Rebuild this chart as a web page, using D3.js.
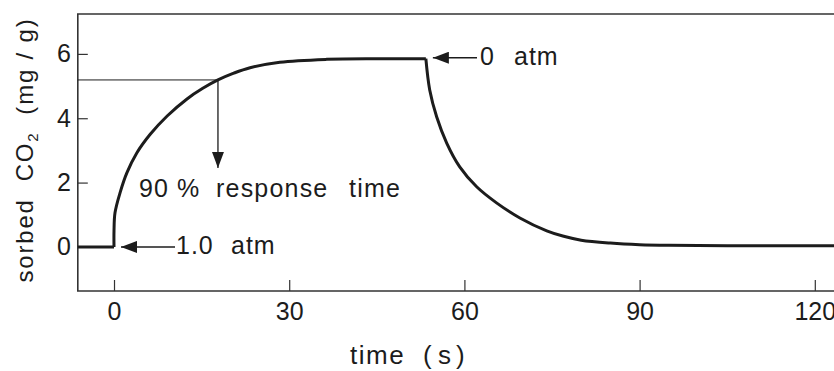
<!DOCTYPE html>
<html>
<head>
<meta charset="utf-8">
<script src="https://cdn.jsdelivr.net/npm/d3@7"></script>
<style>
  body { margin: 0; background: #fff; }
  svg text { font-family: "Liberation Sans", Arial, sans-serif; fill: #1c1c1c; white-space: pre; }
</style>
</head>
<body>
<svg id="chart" width="834" height="371"></svg>
<script>
// readings: time (s) vs sorbed CO2 (mg/g)
var riseTime = [0, 0, 0.17, 1.03, 2.2, 3.9, 6.2, 9.1, 12.5, 15.2, 17.8, 20.5, 23.3, 28.4, 36.4, 45, 53.4];
var riseValue = [0, 0.5, 1.06, 1.68, 2.3, 2.92, 3.5, 4.07, 4.6, 4.93, 5.19, 5.4, 5.57, 5.74, 5.83, 5.85, 5.85];
var fallTime = [53.4, 54.06, 55.26, 56.97, 59.2, 62.1, 65.5, 69.5, 74.1, 77, 80, 85, 90, 95, 105, 125];
var fallValue = [5.85, 4.88, 4.04, 3.23, 2.49, 1.87, 1.37, 0.9, 0.5, 0.33, 0.21, 0.12, 0.07, 0.05, 0.04, 0.04];
var baseTime = [-6.2, 0];
var baseValue = [0, 0];
var xTicks = [0, 30, 60, 90, 120];
var yTicks = [0, 2, 4, 6];
var responseLevel = 5.19, responseTime = 17.8;

(function() {
  var svg = d3.select("svg#chart");
  var x = d3.scaleLinear().domain([-6.2, 125]).range([77.8, 844]);
  var y = d3.scaleLinear().domain([-1.37, 7.24]).range([291, 14]);
  var ink = "#1c1c1c";

  svg.append("defs").append("marker")
    .attr("id", "head").attr("viewBox", "0 0 16 12").attr("refX", 16).attr("refY", 6)
    .attr("markerWidth", 16).attr("markerHeight", 12).attr("markerUnits", "userSpaceOnUse")
    .attr("orient", "auto")
    .append("path").attr("d", "M0,0 L16,6 L0,12 Z").attr("fill", ink);

  // frame (right side runs off the page like the scan)
  svg.append("path")
    .attr("d", "M" + x(125) + "," + y(7.24) + " H" + x(-6.2) + " V" + y(-1.37) + " H" + x(125))
    .attr("fill", "none").attr("stroke", "#333").attr("stroke-width", 1.6);

  var xAxis = d3.axisBottom(x).tickValues(xTicks).tickSizeInner(-11).tickSizeOuter(0).tickPadding(11);
  var gx = svg.append("g").attr("transform", "translate(0," + y(-1.37) + ")").call(xAxis);
  var yAxis = d3.axisLeft(y).tickValues(yTicks).tickSizeInner(-10).tickSizeOuter(0).tickPadding(7);
  var gy = svg.append("g").attr("transform", "translate(" + x(-6.2) + ",0)").call(yAxis);
  [gx, gy].forEach(function(g) {
    g.select(".domain").remove();
    g.selectAll(".tick line").attr("stroke", "#333").attr("stroke-width", 1.2);
    g.selectAll(".tick text").attr("font-size", 25).attr("fill", ink)
      .style("font-family", "'Liberation Sans', Arial, sans-serif");
  });

  // 90 % response guide
  svg.append("line")
    .attr("x1", x(-6.2)).attr("x2", x(responseTime)).attr("y1", y(responseLevel)).attr("y2", y(responseLevel))
    .attr("stroke", ink).attr("stroke-width", 1);
  svg.append("line")
    .attr("x1", x(responseTime)).attr("x2", x(responseTime)).attr("y1", y(responseLevel)).attr("y2", 168)
    .attr("stroke", ink).attr("stroke-width", 1.3).attr("marker-end", "url(#head)");

  var line = d3.line().x(function(d) { return x(d[0]); }).y(function(d) { return y(d[1]); })
    .curve(d3.curveCatmullRom.alpha(0.5));
  [d3.zip(baseTime, baseValue), d3.zip(riseTime, riseValue), d3.zip(fallTime, fallValue)].forEach(function(seg) {
    svg.append("path").datum(seg).attr("d", line)
      .attr("fill", "none").attr("stroke", ink).attr("stroke-width", 3).attr("stroke-linejoin", "round");
  });

  // pressure step arrows
  svg.append("line").attr("x1", 175).attr("x2", x(0) + 7).attr("y1", y(0)).attr("y2", y(0))
    .attr("stroke", ink).attr("stroke-width", 1.5).attr("marker-end", "url(#head)");
  var t1 = svg.append("text").attr("y", 254).attr("font-size", 25).attr("letter-spacing", 1);
  t1.append("tspan").attr("x", 176).text("1.0");
  t1.append("tspan").attr("x", 231).text("atm");

  svg.append("line").attr("x1", 477).attr("x2", x(53.4) + 7).attr("y1", y(5.85) - 1).attr("y2", y(5.85) - 1)
    .attr("stroke", ink).attr("stroke-width", 1.5).attr("marker-end", "url(#head)");
  var t0 = svg.append("text").attr("y", 65).attr("font-size", 25).attr("letter-spacing", 1);
  t0.append("tspan").attr("x", 480).text("0");
  t0.append("tspan").attr("x", 514).text("atm");

  var t90 = svg.append("text").attr("y", 197).attr("font-size", 25).attr("letter-spacing", 1.2);
  t90.append("tspan").attr("x", 139).text("90");
  t90.append("tspan").attr("x", 177).text("%");
  t90.append("tspan").attr("x", 216).text("response");
  t90.append("tspan").attr("x", 349).text("time");

  // axis titles
  var tt = svg.append("text").attr("y", 364).attr("font-size", 26).attr("letter-spacing", 1.5);
  tt.append("tspan").attr("x", 350).text("time");
  tt.append("tspan").attr("x", 423).text("(");
  tt.append("tspan").attr("x", 438).text("s");
  tt.append("tspan").attr("x", 456).text(")");

  var yl = svg.append("text").attr("transform", "translate(33,150) rotate(-90)")
    .attr("text-anchor", "middle").attr("font-size", 24).attr("letter-spacing", 1.8);
  yl.append("tspan").text("sorbed  CO");
  yl.append("tspan").attr("font-size", 15).attr("dy", 5).text("2");
  yl.append("tspan").attr("dy", -5).text("  (mg / g)");
}).call(this);
</script>
</body>
</html>
